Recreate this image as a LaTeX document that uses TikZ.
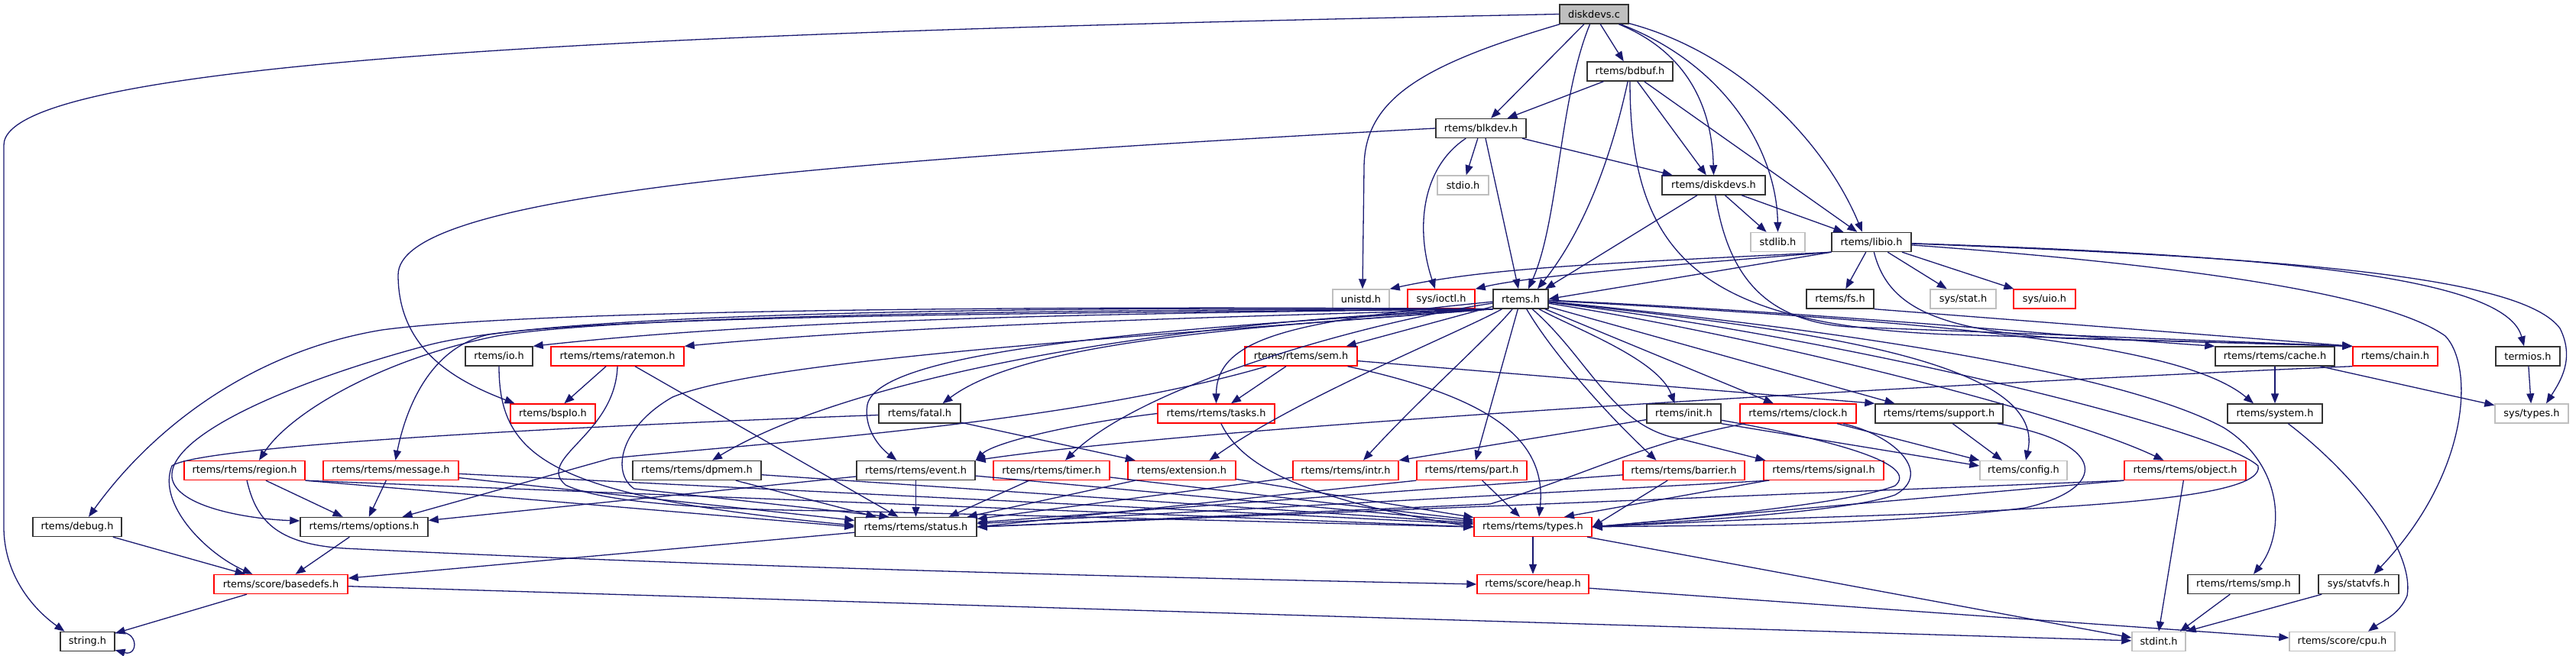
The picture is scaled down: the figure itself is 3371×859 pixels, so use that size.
\documentclass[tikz,border=0pt]{standalone}
\usepackage{fontspec}
\setmainfont{DejaVu Sans}
\usetikzlibrary{arrows.meta}
\definecolor{edgeblue}{HTML}{191970}
\definecolor{grey75}{HTML}{BFBFBF}
\begin{document}
\begin{tikzpicture}[x=1pt,y=-1pt,
  nd/.style={draw=black!80, line width=1.4pt, rectangle, minimum height=25pt, inner sep=0pt, font=\fontsize{12.9}{14}\selectfont},
  rd/.style={nd, draw=red},
  gy/.style={nd, draw=grey75},
  rootnd/.style={nd, fill=grey75},
  e/.style={draw=edgeblue, line width=1.3pt, -{Triangle[length=13pt,width=10pt]}}]
\useasboundingbox (0,0) rectangle (3371,859);
% nodes
\node[rootnd,minimum width=90pt] (dc) at (2086,18.5) {diskdevs.c};
\node[nd,minimum width=112pt] (bdbuf) at (2133,93.5) {rtems/bdbuf.h};
\node[nd,minimum width=118pt] (blkdev) at (1938,168) {rtems/blkdev.h};
\node[gy,minimum width=67pt] (stdio) at (1914.5,242.5) {stdio.h};
\node[nd,minimum width=135pt] (ddh) at (2242.5,242.5) {rtems/diskdevs.h};
\node[gy,minimum width=71pt] (stdlib) at (2326.5,317) {stdlib.h};
\node[nd,minimum width=104pt] (libio) at (2449,317) {rtems/libio.h};
\node[gy,minimum width=74pt] (unistd) at (1781,391.5) {unistd.h};
\node[rd,minimum width=88pt] (ioctl) at (1886,391.5) {sys/ioctl.h};
\node[nd,minimum width=72pt] (rtems) at (1990,391.5) {rtems.h};
\node[nd,minimum width=88pt] (fs) at (2408,391.5) {rtems/fs.h};
\node[gy,minimum width=86pt] (stat) at (2569,391.5) {sys/stat.h};
\node[rd,minimum width=81pt] (uio) at (2675.5,391.5) {sys/uio.h};
\node[nd,minimum width=88pt] (io) at (653,466.5) {rtems/io.h};
\node[rd,minimum width=174pt] (ratemon) at (808,466.5) {rtems/rtems/ratemon.h};
\node[rd,minimum width=147pt] (sem) at (1702.5,466.5) {rtems/rtems/sem.h};
\node[nd,minimum width=156pt] (cache) at (2977,466.5) {rtems/rtems/cache.h};
\node[rd,minimum width=111pt] (chain) at (3134.5,466.5) {rtems/chain.h};
\node[nd,minimum width=84pt] (termios) at (3308,466.5) {termios.h};
\node[rd,minimum width=111pt] (bsplo) at (723.5,541.5) {rtems/bspIo.h};
\node[nd,minimum width=107pt] (fatal) at (1203.5,541.5) {rtems/fatal.h};
\node[rd,minimum width=153pt] (tasks) at (1591.5,541.5) {rtems/rtems/tasks.h};
\node[nd,minimum width=97pt] (init) at (2203.5,541.5) {rtems/init.h};
\node[rd,minimum width=152pt] (clock) at (2353,541.5) {rtems/rtems/clock.h};
\node[nd,minimum width=167pt] (support) at (2537.5,541.5) {rtems/rtems/support.h};
\node[nd,minimum width=124pt] (system) at (2977,541.5) {rtems/system.h};
\node[gy,minimum width=96pt] (systypes) at (3313,541.5) {sys/types.h};
\node[rd,minimum width=158pt] (region) at (320,616) {rtems/rtems/region.h};
\node[rd,minimum width=177pt] (message) at (511.5,616) {rtems/rtems/message.h};
\node[nd,minimum width=168pt] (dpmem) at (912,616) {rtems/rtems/dpmem.h};
\node[nd,minimum width=155pt] (event) at (1198.5,616) {rtems/rtems/event.h};
\node[rd,minimum width=152pt] (timer) at (1376,616) {rtems/rtems/timer.h};
\node[rd,minimum width=141pt] (extension) at (1546.5,616) {rtems/extension.h};
\node[rd,minimum width=138pt] (intr) at (1761,616) {rtems/rtems/intr.h};
\node[rd,minimum width=144pt] (part) at (1926,616) {rtems/rtems/part.h};
\node[rd,minimum width=159pt] (barrier) at (2203.5,616) {rtems/rtems/barrier.h};
\node[rd,minimum width=157pt] (signal) at (2386.5,616) {rtems/rtems/signal.h};
\node[gy,minimum width=114pt] (config) at (2648,616) {rtems/config.h};
\node[rd,minimum width=159pt] (object) at (2859.5,616) {rtems/rtems/object.h};
\node[nd,minimum width=116pt] (debug) at (101,690) {rtems/debug.h};
\node[nd,minimum width=167pt] (options) at (476.5,690) {rtems/rtems/options.h};
\node[nd,minimum width=159pt] (status) at (1198.5,690) {rtems/rtems/status.h};
\node[rd,minimum width=154pt] (types) at (2006,690) {rtems/rtems/types.h};
\node[rd,minimum width=175pt] (basedefs) at (367.5,765) {rtems/score/basedefs.h};
\node[rd,minimum width=146pt] (heap) at (2006,765) {rtems/score/heap.h};
\node[nd,minimum width=146pt] (smp) at (2936,765) {rtems/rtems/smp.h};
\node[nd,minimum width=105pt] (statvfs) at (3086.5,765) {sys/statvfs.h};
\node[nd,minimum width=71pt] (string) at (114.5,840) {string.h};
\node[gy,minimum width=70pt] (stdint) at (2825,840) {stdint.h};
\node[gy,minimum width=138pt] (cpu) at (3065,840) {rtems/score/cpu.h};
% diskdevs.c
\draw[e] (dc.west) .. controls (1000,40) and (5,70) .. (5,190) -- (5,690) .. controls (5,750) and (40,795) .. ([xshift=-30pt]string.north);
\draw[e] (dc) .. controls (1860,85) and (1785,130) .. (1785,220) -- ([xshift=2pt]unistd.north);
\draw[e] (dc) -- (blkdev);
\draw[e] (dc) .. controls (2040,130) and (2040,290) .. ([xshift=10pt]rtems.north);
\draw[e] (dc) -- (bdbuf);
\draw[e] (dc) .. controls (2200,65) and (2240,130) .. (ddh.north);
\draw[e] (dc) .. controls (2260,85) and (2325,200) .. (stdlib.north);
\draw[e] (dc) .. controls (2280,70) and (2390,190) .. ([xshift=-12pt]libio.north);
% bdbuf
\draw[e] (bdbuf) -- (blkdev);
\draw[e] (bdbuf) .. controls (2110,200) and (2075,300) .. ([xshift=22pt]rtems.north);
\draw[e] (bdbuf) -- (ddh);
\draw[e] (bdbuf) -- (libio);
\draw[e] (bdbuf) .. controls (2133,330) and (2220,425) .. (2550,438) -- (chain.north west);
% blkdev
\draw[e] (blkdev) -- (stdio);
\draw[e] (blkdev) .. controls (1860,220) and (1852,300) .. ([xshift=-8pt]ioctl.north);
\draw[e] ([xshift=6pt]blkdev.south) -- ([xshift=-3pt]rtems.north);
\draw[e] (blkdev) -- (ddh);
\draw[e] (blkdev.west) .. controls (1000,215) and (521,260) .. (521,360) .. controls (521,460) and (600,500) .. ([xshift=-50pt]bsplo.north);
% diskdevs.h
\draw[e] (ddh) -- ([xshift=32pt]rtems.north);
\draw[e] (ddh) -- (stdlib);
\draw[e] (ddh) -- (libio);
\draw[e] (ddh) .. controls (2260,350) and (2300,420) .. (2420,428) -- (chain.north west);
% libio
\draw[e] (libio) -- (fs);
\draw[e] (libio) -- (stat);
\draw[e] (libio) -- (uio);
\draw[e] (libio) .. controls (2470,400) and (2530,432) .. (2700,443) -- (chain.north west);
\draw[e] (libio.south west) .. controls (2100,345) and (1950,350) .. (unistd.north east);
\draw[e] (libio.south west) .. controls (2150,350) and (2000,362) .. (ioctl.north east);
\draw[e] (libio.south west) -- (rtems.east);
\draw[e] (libio) .. controls (3000,335) and (3280,365) .. ([xshift=-5pt]termios.north);
\draw[e] (libio) .. controls (3000,338) and (3300,362) .. (3350,430) .. controls (3370,470) and (3350,500) .. ([xshift=19pt]systypes.north);
\draw[e] (libio) .. controls (2900,350) and (3130,390) .. (3200,440) .. controls (3238,480) and (3232,620) .. ([xshift=20pt]statvfs.north);
\draw[e] (fs.south east) -- (chain.north west);
% rtems.h to the left
\draw[e] (rtems.south west) .. controls (1400,400) and (700,405) .. (500,432) .. controls (330,460) and (200,560) .. ([xshift=15pt]debug.north);
\draw[e] (rtems.south west) .. controls (1300,405) and (800,415) .. (650,440) .. controls (500,470) and (380,540) .. ([xshift=19pt]region.north);
\draw[e] (rtems.south west) .. controls (1200,400) and (700,415) .. (560,452) .. controls (380,500) and (220,570) .. (225,625) .. controls (230,665) and (330,680) .. ([yshift=8pt]options.west);
\draw[e] (rtems.south west) .. controls (1300,410) and (800,415) .. (640,438) .. controls (560,455) and (530,540) .. ([xshift=6pt]message.north);
\draw[e] (rtems.south west) .. controls (1400,410) and (1000,420) .. (io.north east);
\draw[e] (rtems.south west) .. controls (1600,415) and (1200,425) .. (ratemon.north east);
\draw[e] (rtems.south west) .. controls (1700,425) and (1350,440) .. ([xshift=30pt]fatal.north);
\draw[e] (rtems.south west) .. controls (1500,420) and (1100,500) .. ([xshift=20pt]dpmem.north);
\draw[e] (rtems.south west) .. controls (1500,430) and (1150,460) .. (1135,530) .. controls (1130,560) and (1150,585) .. ([xshift=-25pt]event.north);
\draw[e] (rtems.south west) .. controls (1500,440) and (1000,470) .. (880,520) .. controls (810,560) and (800,620) .. (830,640) -- ([xshift=-35pt]status.north);
% rtems.h downwards
\draw[e] (rtems) .. controls (1800,420) and (1500,500) .. ([xshift=18pt]timer.north);
\draw[e] (rtems) .. controls (1700,420) and (1592,440) .. (tasks.north);
\draw[e] (rtems) -- ([xshift=-15pt]sem.north east);
\draw[e] (rtems) .. controls (1900,440) and (1700,520) .. ([xshift=36pt]extension.north);
\draw[e] (rtems) .. controls (1950,440) and (1860,520) .. ([xshift=23pt]intr.north);
\draw[e] (rtems) -- ([xshift=5pt]part.north);
\draw[e] (rtems) .. controls (2060,430) and (2170,470) .. ([xshift=-12pt]init.north);
\draw[e] (rtems) -- ([xshift=-32pt]clock.north);
\draw[e] (rtems) .. controls (2030,460) and (2100,540) .. ([xshift=-36pt]barrier.north);
\draw[e] (rtems) .. controls (2080,470) and (2110,560) .. (2200,575) -- ([xshift=3pt]signal.north west);
\draw[e] (rtems) -- ([xshift=-58pt]support.north);
\draw[e] (rtems) .. controls (2350,430) and (2680,470) .. ([xshift=3pt]config.north);
% rtems.h to the right
\draw[e] (rtems) .. controls (2400,410) and (2700,440) .. (cache.north west);
\draw[e] (rtems) .. controls (2500,420) and (2850,445) .. ([xshift=-28pt]system.north);
\draw[e] (rtems) .. controls (2500,440) and (2800,500) .. (2910,560) .. controls (2990,610) and (2990,700) .. ([xshift=13pt]smp.north);
\draw[e] (rtems) .. controls (2300,440) and (2700,540) .. ([xshift=-28pt]object.north);
\draw[e] (rtems) .. controls (2400,440) and (2900,560) .. (2955,610) .. controls (2965,655) and (2700,668) .. (2300,680) -- (types.east);
% middle layer
\draw[e] (io) .. controls (653,600) and (720,650) .. ([yshift=2pt]status.west);
\draw[e] (ratemon) -- (bsplo);
\draw[e] (ratemon) -- (status);
\draw[e] (ratemon.south) .. controls (805,570) and (700,600) .. (740,635) .. controls (790,660) and (950,668) .. (1100,669) -- (types.west);
\draw[e] (dpmem) -- ([xshift=-52pt]status.north);
\draw[e] (dpmem) -- (types);
\draw[e] (event) -- (status);
\draw[e] (event) -- (options);
\draw[e] (event) -- (types);
\draw[e] (timer) -- ([xshift=43pt]status.north);
\draw[e] (timer) -- (types);
\draw[e] (tasks.west) .. controls (1400,555) and (1300,580) .. (event.north east);
\draw[e] (tasks) .. controls (1620,600) and (1680,650) .. (types.west);
\draw[e] (sem) -- (tasks);
\draw[e] (sem) -- (support.north west);
\draw[e] (sem) .. controls (1950,520) and (2025,575) .. ([xshift=8pt]types.north);
\draw[e] (sem) .. controls (1400,555) and (1000,580) .. (800,600) -- ([xshift=50pt]options.north);
\draw[e] (fatal) .. controls (700,560) and (260,585) .. (225,610) .. controls (205,660) and (270,725) .. ([xshift=-37pt]basedefs.north);
\draw[e] (fatal) -- (extension);
\draw[e] (extension) -- ([xshift=-13pt]status.north east);
\draw[e] (extension) -- (types);
\draw[e] (intr) -- (status);
\draw[e] (part.south west) -- (status.east);
\draw[e] (part) -- ([xshift=-17pt]types.north);
\draw[e] (init) -- (intr.north east);
\draw[e] (init.south east) -- ([yshift=6pt]config.west);
\draw[e] (init) .. controls (2420,580) and (2510,610) .. (2480,636) .. controls (2420,660) and (2200,680) .. (types.east);
\draw[e] (clock) -- (config.north west);
\draw[e] (clock) .. controls (2480,570) and (2530,620) .. (2480,648) .. controls (2420,670) and (2200,683) .. (types.east);
\draw[e] (clock) .. controls (2150,580) and (2080,620) .. (1950,660) -- (status.east);
\draw[e] (support) -- ([xshift=-28pt]config.north);
\draw[e] (support) .. controls (2760,580) and (2760,640) .. (2650,665) .. controls (2450,690) and (2200,688) .. (types.east);
\draw[e] (barrier) -- (status);
\draw[e] (barrier) -- (types.east);
\draw[e] ([xshift=8pt]signal.south west) -- (status);
\draw[e] (signal) -- ([xshift=41pt]types.north);
\draw[e] (object) -- (stdint.north);
\draw[e] (object.south west) -- (status.east);
\draw[e] (object.south west) -- (types.east);
\draw[e] (chain.south west) .. controls (2600,500) and (1600,555) .. (event.north east);
\draw[e] (cache) -- (system);
\draw[e] (cache) -- (systypes);
\draw[e] (system) .. controls (3080,620) and (3160,720) .. (3150,780) .. controls (3140,805) and (3115,815) .. ([xshift=34pt]cpu.north);
\draw[e] (termios) -- (systypes);
% lower layer
\draw[e] (region) .. controls (335,680) and (360,712) .. (450,718) .. controls (1000,745) and (1600,758) .. (heap.west);
\draw[e] (region) -- (options);
\draw[e] (region.south east) -- (status.west);
\draw[e] (region.south east) -- (types.west);
\draw[e] (message) -- (options);
\draw[e] (message) -- (status);
\draw[e] (message) -- (types);
\draw[e] (debug) -- (basedefs);
\draw[e] (options) -- (basedefs);
\draw[e] (status) -- (basedefs);
\draw[e] (types) -- (heap);
\draw[e] (types) -- ([yshift=5pt]stdint.west);
\draw[e] (heap) -- (cpu);
\draw[e] (smp) -- ([xshift=-8pt]stdint.north east);
\draw[e] (statvfs) -- (stdint.north east);
\draw[e] (basedefs) -- (stdint);
\draw[e] (basedefs) -- (string);
\draw[e] ([yshift=-2pt]string.north east) .. controls (182,822) and (182,860) .. ([yshift=2pt]string.south east);
\end{tikzpicture}
\end{document}
